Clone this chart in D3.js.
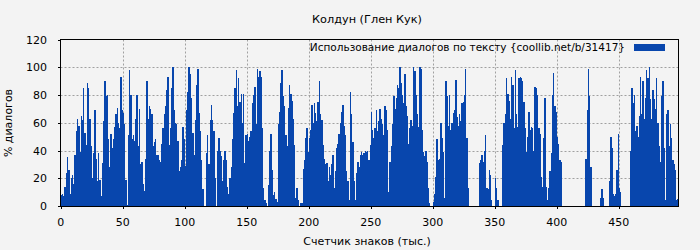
<!DOCTYPE html>
<html><head><meta charset="utf-8">
<script src="https://cdn.jsdelivr.net/npm/d3@7"></script>
<style>html,body{margin:0;padding:0;background:#f3f3f3;}svg{display:block;}</style>
</head><body><svg id="c" width="700" height="250"></svg>
<script>
const title = "Колдун (Глен Кук)";
const xTitle = "Счетчик знаков (тыс.)";
const yTitle = "% диалогов";
const seriesName = "Использование диалогов по тексту {coollib.net/b/31417}";
const xTicks = [0, 50, 100, 150, 200, 250, 300, 350, 400, 450];
const yTicks = [0, 20, 40, 60, 80, 100, 120];
// % of dialogue per thousand characters, bars 0..497
const vals0 = [8,9,7,14,24,35,26,9,20,22,16,37,54,63,58,39,65,62,85,53,44,89,85,63,43,20,38,69,34,18,38,19,7,31,61,90,79,80,48,28,52,42,48,57,66,71,60,56,93,69,67,59,19,1,51,98,80,48,51,47,63,80,43,70,30,32,16,11,34,90,63,72,70,66,43,46,48,37,37,33,32,45,56,66,72,84,93,44,56,85,100,69,60,59,47,25,28,33,57,48];
const vals1 = [29,69,82,100,95,78,53,37,62,87,99,67,54,33,12,0,0,38,51,30,62,73,62,54,20,0,40,49,40,36,18,33,40,33,14,9,20,28,48,67,85,98,72,92,75,81,60,81,31,51,52,47,50,54,74,80,86,59,99,93,97,93,56,13,4,2,0,15,40,52,26,8,10,5,3,59,68,89,98,79,72,51,43,71,87,81,76,63,44,6,13,4,0,2,2,27,33,49,56,39];
const vals2 = [49,55,73,60,74,67,61,75,90,66,62,44,34,30,31,18,28,22,30,37,13,25,42,45,52,60,68,73,58,51,25,18,4,82,66,46,18,4,24,32,28,37,39,37,38,40,39,40,33,44,68,55,49,56,69,54,61,70,63,59,51,72,69,55,10,32,43,59,79,70,78,87,85,100,89,80,74,95,72,65,45,56,62,58,100,97,80,66,57,100,99,55,39,36,40,32,13,2,0,0];
const vals3 = [3,9,21,48,33,34,60,49,39,6,90,79,58,80,55,60,67,69,91,64,58,66,61,74,75,80,99,49,13,0,0,0,0,0,0,0,0,31,33,37,32,40,51,13,12,26,22,4,0,0,20,13,4,0,0,0,44,60,66,92,81,76,63,93,87,56,98,66,57,92,93,92,90,75,56,39,50,68,55,57,56,40,86,85,80,56,52,21,14,49,78,14,4,13,25,38,80,96,72,68];
const vals4 = [50,45,33,32,0,0,0,0,0,0,0,0,0,0,0,0,0,0,0,0,0,0,0,34,69,99,79,28,0,0,0,0,0,0,0,6,12,6,0,0,0,0,18,50,42,9,7,9,26,52,13,10,0,0,0,0,0,0,0,40,85,74,80,54,58,50,65,93,66,90,63,78,98,92,100,77,63,84,77,70,92,60,43,32,79,90,42,4,66,69,43,59,49,33,30,26,4,5];
const values = [].concat(vals0, vals1, vals2, vals3, vals4);

const svg = d3.select("#c");
const font = "DejaVu Sans, sans-serif";
const L = 60.5, R = 678.5, T = 39.5, B = 206;
const x = d3.scaleLinear().domain([0, 498]).range([60.7, 678.3]);
const y = d3.scaleLinear().domain([0, 120]).range([206, 39.6]);

svg.append("rect").attr("width", 700).attr("height", 250).attr("fill", "#f3f3f3");

// grid
const g = svg.append("g");
g.selectAll("line.gx").data(xTicks.filter(d => d > 0)).join("line")
  .attr("x1", d => Math.round(x(d)) + 0.5).attr("x2", d => Math.round(x(d)) + 0.5)
  .attr("y1", T).attr("y2", B).attr("stroke", "#a0a0a0").attr("stroke-dasharray", "2,2");
g.selectAll("line.gy").data(yTicks.filter(d => d > 0 && d < 120)).join("line")
  .attr("y1", d => Math.round(y(d)) + 0.5).attr("y2", d => Math.round(y(d)) + 0.5)
  .attr("x1", L).attr("x2", R).attr("stroke", "#a0a0a0").attr("stroke-dasharray", "2,2");

// bars
const step = x(1) - x(0);
svg.append("g").attr("shape-rendering", "crispEdges").selectAll("rect").data(values).join("rect")
  .attr("x", (d, i) => x(i)).attr("width", step + 0.2)
  .attr("y", d => y(d)).attr("height", d => y(0) - y(d))
  .attr("fill", "#0846ad");

// frame
svg.append("rect").attr("x", L).attr("y", T).attr("width", R - L).attr("height", B - T)
  .attr("fill", "none").attr("stroke", "#000").attr("stroke-width", 1).attr("shape-rendering", "crispEdges");

// inner ticks
const tk = svg.append("g").attr("stroke", "#000").attr("shape-rendering", "crispEdges");
xTicks.forEach(d => {
  const xx = Math.round(x(d)) + 0.5;
  tk.append("line").attr("x1", xx).attr("x2", xx).attr("y1", B).attr("y2", B + 3);
});
yTicks.forEach(d => {
  const yy = Math.round(y(d)) + 0.5;
  tk.append("line").attr("x1", L - 3).attr("x2", L).attr("y1", yy).attr("y2", yy);
});

// tick labels
svg.append("g").selectAll("text").data(xTicks).join("text")
  .attr("x", d => x(d)).attr("y", 226).attr("text-anchor", "middle")
  .attr("font-family", font).attr("font-size", 11).attr("fill", "#000").text(d => d);
svg.append("g").selectAll("text").data(yTicks).join("text")
  .attr("x", 47).attr("y", d => y(d) + 4).attr("text-anchor", "end")
  .attr("font-family", font).attr("font-size", 11).attr("fill", "#000").text(d => d);

// titles
svg.append("text").attr("x", 367).attr("y", 23).attr("text-anchor", "middle")
  .attr("font-family", font).attr("font-size", 11.3).text(title);
svg.append("text").attr("x", 367).attr("y", 245).attr("text-anchor", "middle")
  .attr("font-family", font).attr("font-size", 11).text(xTitle);
svg.append("text").attr("transform", "translate(12,123) rotate(-90)").attr("text-anchor", "middle")
  .attr("font-family", font).attr("font-size", 11).text(yTitle);

// legend
svg.append("text").attr("x", 625).attr("y", 51).attr("text-anchor", "end")
  .attr("font-family", font).attr("font-size", 10.5).text(seriesName);
svg.append("rect").attr("x", 634).attr("y", 44).attr("width", 31).attr("height", 7).attr("fill", "#0846ad");
</script></body></html>
